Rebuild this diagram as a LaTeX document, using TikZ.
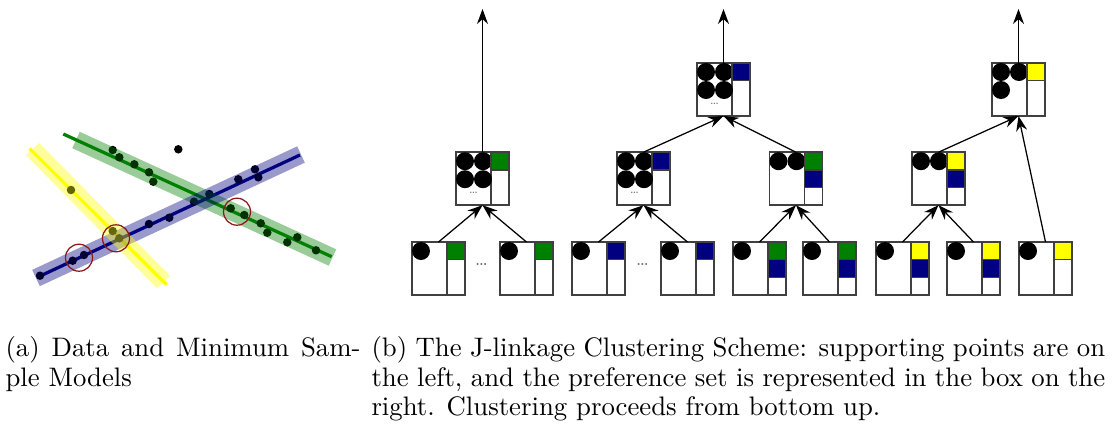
\documentclass[tikz,border=0pt]{standalone}
\usepackage{tikz}
\usetikzlibrary{calc,arrows.meta}

\definecolor{prefgreen}{RGB}{0,128,0}
\definecolor{prefblue}{RGB}{0,0,128}
\definecolor{prefyellow}{RGB}{255,255,0}
\definecolor{msscircle}{RGB}{139,26,26}

\tikzset{
  pset/.style={draw=black!75, line width=0.65pt, minimum width=21.2pt,
    minimum height=21.2pt, inner sep=0pt, outer sep=0pt},
  pline/.style={draw=black!75, line width=0.65pt},
  merge/.style={-{Stealth[length=6pt,width=4.4pt]}, line width=0.5pt},
  band/.style={line width=7.2pt, opacity=0.4},
  fitline/.style={line width=1.3pt},
  mss/.style={draw=msscircle, line width=0.5pt},
  capt/.style={anchor=north west, inner sep=0pt, align=justify,
    font=\fontsize{10.7}{11.8}\selectfont},
  skip/.style={inner sep=0pt, text=black!60, font=\scriptsize}
}

\newcommand{\prefbox}[3]{%
  \node[pset] (#1) at (#2,#3) {};
  \draw[pline] ($(#1.north west)+(35,0)$) -- ($(#1.south west)+(35,0)$);
}
\newcommand{\ptdot}[3]{%
  \fill ($(#1.north west)+(9+18*#2,9+18*#3)$) circle[radius=3.6pt];
}
\newcommand{\prefcell}[3]{%
  \filldraw[pline, fill=#3] ($(#1.north west)+(35,17.67*#2)$) rectangle +(18,17.67);
}
\newcommand{\ptmore}[1]{%
  \node[inner sep=0pt, text=black!60, font=\fontsize{4.5}{5}\selectfont]
    (#1-more) at ($(#1.north west)+(17.5,41)$) {\dots};
}

\begin{document}
\begin{tikzpicture}[x=0.4pt, y=-0.4pt]
  \useasboundingbox (0,0) rectangle (1115,428);

  \draw[fitline, prefgreen] (63.3,134) -- (331.7,256.7);
  \draw[fitline, prefblue] (38,277) -- (300,155);
  \draw[fitline, prefyellow] (29.5,148.5) -- (166.5,284.5);
  \foreach \p in {(112.7,150),(119.3,157.3),(134.3,164.3),(149,172.3),(153.3,181.7),
      (230.7,208.3),(244.3,215),(260.7,223.3),(267.3,232.7),(287.3,242.3),
      (297.3,237.3),(316,250.3),(194,201.7),(209.3,194),(40,275.7),(72.7,260.7),
      (84,255),(112.7,231),(119.3,238.3),(149,224),(169.3,217.7),(238.3,179.3),
      (255,169.3),(258.3,177.3),(178.3,149.3),(71,190)}
    \fill \p circle[radius=1.7pt];
  \draw[band, prefgreen] (76,140) -- (332.5,257.5);
  \draw[band, prefblue] (36,278) -- (301,154.5);
  \draw[band, prefyellow] (32.5,149) -- (163.5,282);
  \draw[mss] (79,257.7) circle[radius=5.4pt];
  \draw[mss] (116,238.3) circle[radius=5.4pt];
  \draw[mss] (237,211.7) circle[radius=5.4pt];

  \prefbox{b1}{438.5}{268.5} \ptdot{b1}{0}{0} \prefcell{b1}{0}{prefgreen}
  \prefbox{b2}{526.5}{268.5} \ptdot{b2}{0}{0} \prefcell{b2}{0}{prefgreen}
  \prefbox{b3}{598.5}{268.5} \ptdot{b3}{0}{0} \prefcell{b3}{0}{prefblue}
  \prefbox{b4}{687.5}{268.5} \ptdot{b4}{0}{0} \prefcell{b4}{0}{prefblue}
  \prefbox{b5}{759.5}{268.5} \ptdot{b5}{0}{0} \prefcell{b5}{0}{prefgreen} \prefcell{b5}{1}{prefblue}
  \prefbox{b6}{829.5}{268.5} \ptdot{b6}{0}{0} \prefcell{b6}{0}{prefgreen} \prefcell{b6}{1}{prefblue}
  \prefbox{b7}{902.5}{268.5} \ptdot{b7}{0}{0} \prefcell{b7}{0}{prefyellow} \prefcell{b7}{1}{prefblue}
  \prefbox{b8}{973.5}{268.5} \ptdot{b8}{0}{0} \prefcell{b8}{0}{prefyellow} \prefcell{b8}{1}{prefblue}
  \prefbox{b9}{1045.5}{268.5} \ptdot{b9}{0}{0} \prefcell{b9}{0}{prefyellow}
  \node[skip] (gap1) at (481.5,264) {\dots};
  \node[skip] (gap2) at (642.5,264) {\dots};

  \prefbox{mA}{482.5}{178.7} \ptdot{mA}{0}{0} \ptdot{mA}{1}{0} \ptdot{mA}{0}{1} \ptdot{mA}{1}{1}
    \ptmore{mA} \prefcell{mA}{0}{prefgreen}
  \prefbox{mB}{643.5}{178.7} \ptdot{mB}{0}{0} \ptdot{mB}{1}{0} \ptdot{mB}{0}{1} \ptdot{mB}{1}{1}
    \ptmore{mB} \prefcell{mB}{0}{prefblue}
  \prefbox{mC}{796}{178.7} \ptdot{mC}{0}{0} \ptdot{mC}{1}{0}
    \prefcell{mC}{0}{prefgreen} \prefcell{mC}{1}{prefblue}
  \prefbox{mD}{938.5}{178.7} \ptdot{mD}{0}{0} \ptdot{mD}{1}{0}
    \prefcell{mD}{0}{prefyellow} \prefcell{mD}{1}{prefblue}

  \prefbox{tE}{723.5}{89.5} \ptdot{tE}{0}{0} \ptdot{tE}{1}{0} \ptdot{tE}{0}{1} \ptdot{tE}{1}{1}
    \ptmore{tE} \prefcell{tE}{0}{prefblue}
  \prefbox{tF}{1018.5}{89.5} \ptdot{tF}{0}{0} \ptdot{tF}{1}{0} \ptdot{tF}{0}{1}
    \prefcell{tF}{0}{prefyellow}

  \coordinate (outA) at (482.5,9);
  \coordinate (outE) at (723.5,9);
  \coordinate (outF) at (1018.5,9);

  \draw[merge] (b1.north) -- (mA.south);
  \draw[merge] (b2.north) -- (mA.south);
  \draw[merge] (b3.north) -- (mB.south);
  \draw[merge] (b4.north) -- (mB.south);
  \draw[merge] (b5.north) -- (mC.south);
  \draw[merge] (b6.north) -- (mC.south);
  \draw[merge] (b7.north) -- (mD.south);
  \draw[merge] (b8.north) -- (mD.south);
  \draw[merge] (mB.north) -- (tE.south);
  \draw[merge] (mC.north) -- (tE.south);
  \draw[merge] (mD.north) -- (tF.south);
  \draw[merge] (b9.north) -- (tF.south);
  \draw[merge] (mA.north) -- (outA);
  \draw[merge] (tE.north) -- (outE);
  \draw[merge] (tF.north) -- (outF);

  \node[capt, text width=142pt] (capa) at (5,336)
    {(a) Data and Minimum Sam-\linebreak ple Models};
  \node[capt, text width=293.5pt] (capb) at (371,336)
    {(b) The J-linkage Clustering Scheme: supporting points are on\linebreak
     the left, and the preference set is represented in the box on the\linebreak
     right. Clustering proceeds from bottom up.};
\end{tikzpicture}
\end{document}
